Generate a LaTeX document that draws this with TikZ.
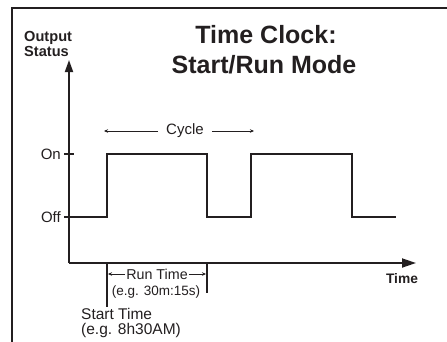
\documentclass[tikz,border=0pt]{standalone}
\usepackage{fontspec}
\setmainfont{Liberation Sans}
\usetikzlibrary{arrows.meta}
\definecolor{ink}{HTML}{231F20}
\begin{document}
\begin{tikzpicture}[x=1pt,y=-1pt,
  line/.style={draw=ink,line width=1.8pt},
  sig/.style={draw=ink,line width=1.6pt,line join=miter},
  thin/.style={draw=ink,line width=0.6pt},
  lbl/.style={text=ink,inner sep=0pt,font=\fontsize{15}{17}\selectfont},
  rlbl/.style={text=ink,inner sep=0pt,font=\fontsize{14.3}{16}\selectfont},
  small/.style={text=ink,inner sep=0pt,font=\fontsize{13.5}{15}\selectfont},
  stl/.style={text=ink,inner sep=0pt,font=\fontsize{15.5}{14.5}\selectfont,align=left},
  bigt/.style={text=ink,inner sep=0pt,font=\bfseries\fontsize{25}{29}\selectfont},
  ayt/.style={text=ink,inner sep=0pt,font=\bfseries\fontsize{14.6}{15}\selectfont,align=left},
  axt/.style={text=ink,inner sep=0pt,font=\bfseries\fontsize{13.8}{14}\selectfont,align=left},
  tip/.style={-{Stealth[length=4pt,width=3.5pt]}}
]
\useasboundingbox (0,0) rectangle (447,341);
% frame
\coordinate (fb) at (12,345);
\coordinate (fc) at (12,8);
\coordinate (fr) at (450,8);
\draw[line] (fb) -- (fc) -- (fr);
% titles
\node[bigt] (t1) at (266,35) {Time Clock:};
\node[bigt] (t2) at (264,65) {Start/Run Mode};
\node[ayt,anchor=west] (ys) at (24,44) {Output\\Status};
% axes
\coordinate (O) at (69,263);
\coordinate (Ytop) at (69,60);
\coordinate (Xend) at (416,263);
\draw[line,-{Triangle[length=12pt,width=8pt]}] (O) -- (Ytop);
\draw[line,-{Triangle[length=14pt,width=9pt]}] (O) -- (Xend);
\node[axt,anchor=north] (tx) at (402,273) {Time};
% ticks and levels
\coordinate (onL) at (64,154);
\coordinate (onR) at (74,154);
\coordinate (offL) at (64,217);
\coordinate (offR) at (69,217);
\draw[line] (onL) -- (onR);
\draw[line] (offL) -- (offR);
\node[lbl,anchor=east] (on) at (61,154) {On};
\node[lbl,anchor=east] (off) at (61,217) {Off};
% signal
\coordinate (s0) at (69,217);
\coordinate (s1) at (107,217);
\coordinate (s2) at (107,154);
\coordinate (s3) at (207,154);
\coordinate (s4) at (207,217);
\coordinate (s5) at (251,217);
\coordinate (s6) at (251,154);
\coordinate (s7) at (352,154);
\coordinate (s8) at (352,217);
\coordinate (s9) at (396,217);
\draw[sig] (s0) -- (s1) -- (s2) -- (s3) -- (s4) -- (s5) -- (s6) -- (s7) -- (s8) -- (s9);
% cycle
\node[lbl] (cyc) at (185,131) {Cycle};
\coordinate (cl) at (104,131);
\coordinate (cr) at (254,131);
\draw[thin,tip] (cyc.west) ++(-8,0) -- (cl);
\draw[thin,tip] (cyc.east) ++(8,0) -- (cr);
% start / run markers
\coordinate (st0) at (107,263);
\coordinate (st1) at (107,307);
\coordinate (rt0) at (207,263);
\coordinate (rt1) at (207,293);
\draw[line] (st0) -- (st1);
\draw[line] (rt0) -- (rt1);
\node[rlbl] (run) at (157,274) {Run Time};
\draw[thin,tip] (run.west) ++(-1,0) -- (108,274);
\draw[thin,tip] (run.east) ++(1,0) -- (206,274);
\node[small] (rex) at (156,292) {(e.g. 30m:15s)};
\node[stl,anchor=west] (stt) at (81,323) {Start Time\\(e.g. 8h30AM)};
\end{tikzpicture}
\end{document}
